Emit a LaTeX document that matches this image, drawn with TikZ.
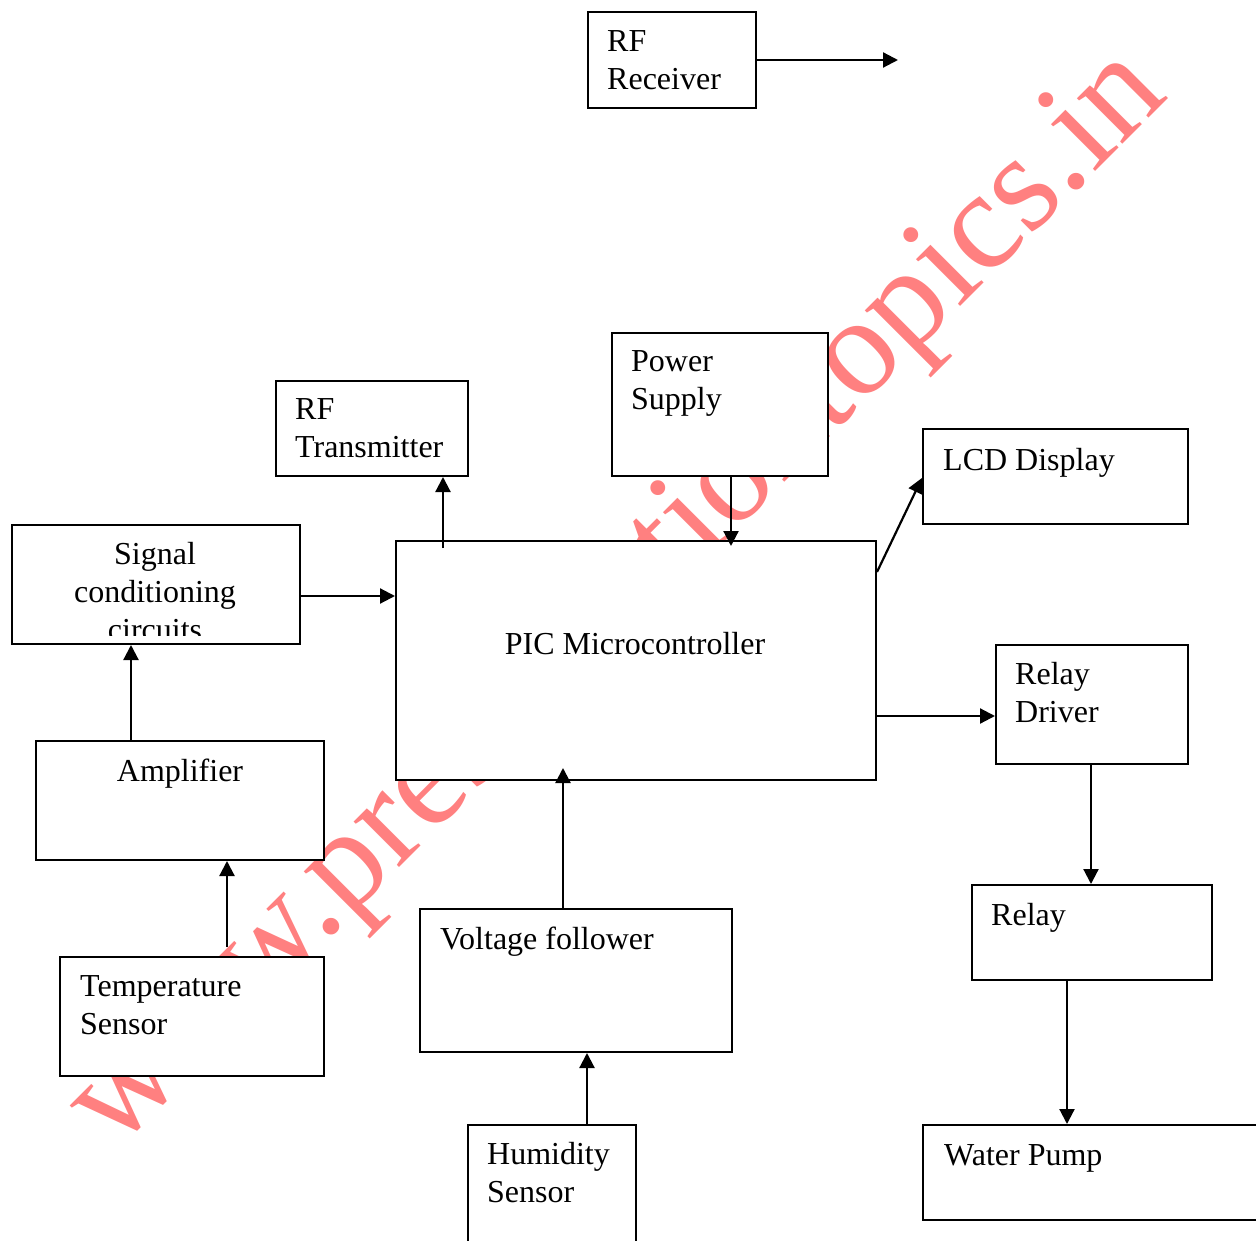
\documentclass[tikz,border=0pt]{standalone}
\usepackage{fontspec}
\setmainfont{Liberation Serif}
\usetikzlibrary{arrows.meta}
\definecolor{wmred}{RGB}{255,128,128}
\begin{document}
\begin{tikzpicture}[x=1pt,y=-1pt,
  box/.style={draw=black, line width=2pt, fill=white, anchor=north west, inner sep=0pt},
  lbl/.style={anchor=base west, inner sep=0pt, font=\fontsize{32}{38}\selectfont},
  arr/.style={line width=2.2pt, -{Triangle[length=15pt,width=15pt]}},
  wm/.style={text=wmred, inner sep=0pt, font=\fontsize{140}{140}\selectfont}]
\useasboundingbox (0,0) rectangle (1256,1241);
\clip (0,0) rectangle (1256,1241);
% watermark
\node[wm, rotate=45, anchor=base west] (wmark) at (115,1152) {www.presentationtopics.in};
% boxes
\node[box, minimum width=168pt, minimum height=96pt]  (rfrx)  at (587,11)   {};
\node[box, minimum width=216pt, minimum height=143pt] (pwr)   at (611,332)  {};
\node[box, minimum width=192pt, minimum height=95pt]  (rftx)  at (275,380)  {};
\node[box, minimum width=265pt, minimum height=95pt]  (lcd)   at (922,428)  {};
\node[box, minimum width=288pt, minimum height=119pt] (sig)   at (11,524)   {};
\node[box, minimum width=480pt, minimum height=239pt] (pic)   at (395,540)  {};
\node[box, minimum width=192pt, minimum height=119pt] (rdrv)  at (995,644)  {};
\node[box, minimum width=288pt, minimum height=119pt] (amp)   at (35,740)   {};
\node[box, minimum width=240pt, minimum height=95pt]  (relay) at (971,884)  {};
\node[box, minimum width=312pt, minimum height=143pt] (vf)    at (419,908)  {};
\node[box, minimum width=264pt, minimum height=119pt] (temp)  at (59,956)   {};
\node[box, minimum width=168pt, minimum height=160pt] (hum)   at (467,1124) {};
\node[box, minimum width=380pt, minimum height=95pt]  (pump)  at (922,1124) {};
% labels
\node[lbl] (t1)  at (607,52)   {RF};
\node[lbl] (t2)  at (607,90)   {Receiver};
\node[lbl] (t3)  at (631,371)  {Power};
\node[lbl] (t4)  at (631,409)  {Supply};
\node[lbl] (t5)  at (295,419)  {RF};
\node[lbl] (t6)  at (295,457)  {Transmitter};
\node[lbl] (t7)  at (943,470)  {LCD Display};
\begin{scope}
\clip (13,526) rectangle (297,635);
\node[lbl, anchor=base] (t8)  at (155,564) {Signal};
\node[lbl, anchor=base] (t9)  at (155,602) {conditioning};
\node[lbl, anchor=base] (t10) at (155,640) {circuits};
\end{scope}
\node[lbl, anchor=base] (t11) at (635,654) {PIC Microcontroller};
\node[lbl] (t12) at (1015,684) {Relay};
\node[lbl] (t13) at (1015,722) {Driver};
\node[lbl, anchor=base] (t14) at (180,781) {Amplifier};
\node[lbl] (t15) at (991,925)  {Relay};
\node[lbl] (t16) at (440,949)  {Voltage follower};
\node[lbl] (t17) at (80,996)   {Temperature};
\node[lbl] (t18) at (80,1034)  {Sensor};
\node[lbl] (t19) at (487,1164) {Humidity};
\node[lbl] (t20) at (487,1202) {Sensor};
\node[lbl] (t21) at (944,1165) {Water Pump};
% connectors
\coordinate (rxend) at (rfrx.east -| 898,0);
\draw[arr] (rfrx.east) -- (rxend);
\draw[arr] (sig.east |- 0,596) -- (pic.west |- 0,596);
\draw[arr] (amp.north -| 131,0) -- (sig.south -| 131,0);
\draw[arr, shorten <=9pt] (temp.north -| 227,0) -- (amp.south -| 227,0);
\draw[arr, shorten <=-8pt] (pic.north -| 443,0) -- (rftx.south -| 443,0);
\draw[arr, shorten >=-6pt] (pwr.south -| 731,0) -- (pic.north -| 731,0);
\draw[arr] (pic.north east |- 0,572) -- (lcd.west |- 0,478);
\draw[arr] (pic.east |- 0,716) -- (rdrv.west |- 0,716);
\draw[arr, shorten >=-13pt] (vf.north -| 563,0) -- (pic.south -| 563,0);
\draw[arr] (hum.north -| 587,0) -- (vf.south -| 587,0);
\draw[arr] (rdrv.south -| 1091,0) -- (relay.north -| 1091,0);
\draw[arr] (relay.south -| 1067,0) -- (pump.north -| 1067,0);
\end{tikzpicture}
\end{document}
